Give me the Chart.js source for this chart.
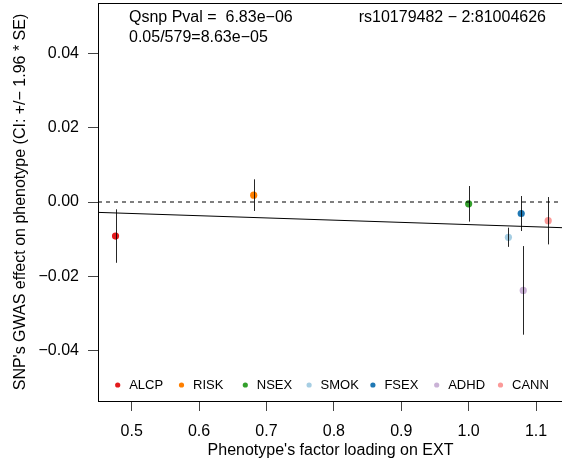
<!DOCTYPE html>
<html>
<head>
<meta charset="utf-8">
<script src="https://cdn.jsdelivr.net/npm/chart.js@4/dist/chart.umd.min.js"></script>
<style>
  html, body { margin: 0; padding: 0; background: #fff; overflow: hidden; }
  #wrap { width: 562px; height: 467px; overflow: hidden; }
</style>
</head>
<body>
<div id="wrap"><canvas id="ext" width="566" height="467"></canvas></div>
<script>
// Phenotypes, their loading on EXT and the SNP's GWAS estimate with its SE
const phenotypes = ['ALCP', 'RISK', 'NSEX', 'SMOK', 'FSEX', 'ADHD', 'CANN'];
const colors = ['#E31A1C', '#FF7F00', '#33A02C', '#A6CEE3', '#1F78B4', '#CAB2D6', '#FB9A99'];
const loadings = [0.476, 0.681, 1.000, 1.059, 1.078, 1.081, 1.118];
const estimates = [-0.00919, 0.00185, -0.00049, -0.00952, -0.00311, -0.02385, -0.00505];
const stdErrors = [0.00368, 0.00218, 0.00245, 0.00132, 0.00241, 0.00610, 0.00326];

// Fitted line through the estimates
const fitIntercept = -0.0001;
const fitSlope = -0.0060;

const xTicks = [0.5, 0.6, 0.7, 0.8, 0.9, 1.0, 1.1];
const yTicks = [-0.04, -0.02, 0.00, 0.02, 0.04];
const xRange = [0.45, 1.14];
const yRange = [-0.0537, 0.0537];

const FONT = '"Liberation Sans", Arial, Helvetica, sans-serif';

const points = loadings.map((x, i) => ({ x: x, y: estimates[i] }));
const fitLine = xRange.map(x => ({ x: x, y: fitIntercept + fitSlope * x }));
const zeroLine = xRange.map(x => ({ x: x, y: 0 }));

// Vertical CI bars (est +/- 1.96 * SE), box, legend and annotations
const extras = {
    id: 'extras',
    afterDatasetsDraw(chart) {
        const { ctx, scales: { x, y } } = chart;
        ctx.save();
        ctx.strokeStyle = 'rgba(0,0,0,0.85)';
        ctx.lineWidth = 1;
        loadings.forEach((l, i) => {
            const px = Math.round(x.getPixelForValue(l)) + 0.5;
            const lo = y.getPixelForValue(estimates[i] - 1.96 * stdErrors[i]);
            const hi = y.getPixelForValue(estimates[i] + 1.96 * stdErrors[i]);
            ctx.beginPath();
            ctx.moveTo(px, lo);
            ctx.lineTo(px, hi);
            ctx.stroke();
        });
        ctx.restore();
    },
    afterDraw(chart) {
        const { ctx, chartArea: a } = chart;
        ctx.save();
        ctx.strokeStyle = '#000';
        ctx.lineWidth = 1;
        ctx.strokeRect(Math.round(a.left) + 0.5, Math.round(a.top) + 0.5,
                       Math.round(a.right - a.left), Math.round(a.bottom - a.top));

        // legend along the bottom of the plot
        ctx.font = '13px ' + FONT;
        ctx.textBaseline = 'middle';
        ctx.textAlign = 'left';
        phenotypes.forEach((name, i) => {
            const cx = 117.7 + i * 63.8;
            ctx.fillStyle = colors[i];
            ctx.beginPath();
            ctx.arc(cx, 385, 2.6, 0, Math.PI * 2);
            ctx.fill();
            ctx.fillStyle = '#000';
            ctx.fillText(name, cx + 11.5, 385);
        });

        // heterogeneity test text
        ctx.font = '16px ' + FONT;
        ctx.textBaseline = 'alphabetic';
        ctx.fillText('Qsnp Pval =  6.83e\u221206', 129, 22);
        ctx.fillText('0.05/579=8.63e\u221205', 129, 42);
        ctx.textAlign = 'right';
        ctx.fillText('rs10179482 \u2212 2:81004626', 546, 22);

        // axis titles
        ctx.textAlign = 'center';
        ctx.fillText("Phenotype's factor loading on EXT", (a.left + a.right) / 2, 455);
        ctx.translate(24.5, (a.top + a.bottom) / 2);
        ctx.rotate(-Math.PI / 2);
        ctx.fillText('SNP\'s GWAS effect on phenotype (CI: +/\u2212 1.96 * SE)', 0, 0);
        ctx.restore();
    }
};

// keep the plot box at fixed pixel edges
function fixPadding(s) {
    s.paddingTop = 0;
    s.paddingBottom = 0;
    s.paddingLeft = 0;
    s.paddingRight = 0;
}

new Chart(document.getElementById('ext').getContext('2d'), {
    type: 'scatter',
    data: {
        datasets: [
            {
                data: zeroLine,
                type: 'line',
                borderColor: '#000',
                borderWidth: 1,
                borderDash: [4, 4],
                pointRadius: 0
            },
            {
                data: fitLine,
                type: 'line',
                borderColor: '#000',
                borderWidth: 1,
                pointRadius: 0
            },
            {
                data: points,
                pointRadius: 3.6,
                pointBorderWidth: 0,
                backgroundColor: colors,
                pointBackgroundColor: colors
            }
        ]
    },
    plugins: [extras],
    options: {
        responsive: false,
        animation: false,
        devicePixelRatio: 1,
        layout: { autoPadding: false, padding: { top: 3, right: 3, left: 0, bottom: 0 } },
        plugins: {
            legend: { display: false },
            tooltip: { enabled: false }
        },
        scales: {
            x: {
                type: 'linear',
                min: xRange[0],
                max: xRange[1],
                afterBuildTicks: s => { s.ticks = xTicks.map(v => ({ value: v })); },
                afterFit: s => { s.height = 66; fixPadding(s); },
                grid: { drawOnChartArea: false, drawTicks: true, tickLength: 10, color: '#444' },
                border: { display: true, color: '#000', width: 1 },
                ticks: {
                    color: '#000',
                    padding: 11,
                    maxRotation: 0,
                    autoSkip: false,
                    font: { family: FONT, size: 16 },
                    callback: v => Number(v).toFixed(1)
                }
            },
            y: {
                type: 'linear',
                min: yRange[0],
                max: yRange[1],
                afterBuildTicks: s => { s.ticks = yTicks.map(v => ({ value: v })); },
                afterFit: s => { s.width = 98; fixPadding(s); },
                grid: { drawOnChartArea: false, drawTicks: true, tickLength: 10, color: '#444' },
                border: { display: true, color: '#000', width: 1 },
                ticks: {
                    color: '#000',
                    padding: 9,
                    autoSkip: false,
                    font: { family: FONT, size: 16 },
                    callback: v => Number(v).toFixed(2).replace('-', '\u2212')
                }
            }
        }
    }
});
</script>
</body>
</html>
